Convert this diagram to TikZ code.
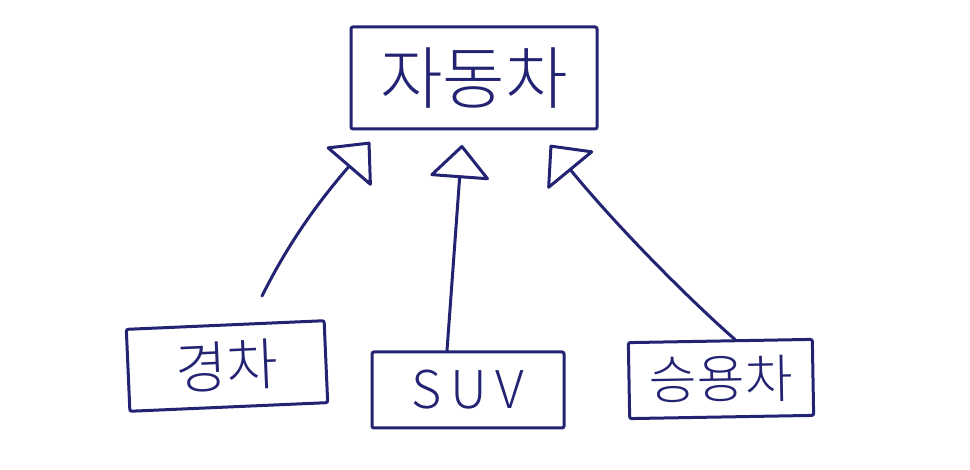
\documentclass[tikz,border=0pt]{standalone}
\usepackage{fontspec}
\newfontfamily\kr{Noto Sans CJK KR}[UprightFont=* Light]
\usetikzlibrary{arrows.meta}
\definecolor{ink}{RGB}{35,35,115}
\begin{document}
\begin{tikzpicture}[x=1pt,y=-1pt,
  box/.style={draw=ink, line width=3pt, rounded corners=2pt, inner sep=0pt, text=ink, font=\kr},
  link/.style={draw=ink, line width=3pt, line cap=round, -{Triangle[open, length=34pt, width=62pt, round]}}]
\useasboundingbox[fill=white] (0,0) rectangle (970,470);
\node[box, minimum width=246pt, minimum height=102pt, font=\kr\fontsize{68}{68}\selectfont] (car) at (474,78) {\raisebox{-2pt}{자동차}};
\node[box, minimum width=198pt, minimum height=82pt, rotate=2.5, font=\kr\fontsize{56}{56}\selectfont] (kyung) at (227,366) {경차};
\node[box, minimum width=192pt, minimum height=76pt, font=\kr\fontsize{52}{52}\selectfont] (suv) at (468,390) {S\,U\,V};
\node[box, minimum width=184pt, minimum height=76pt, rotate=1, font=\kr\fontsize{52}{52}\selectfont] (seung) at (721,379) {승용차};
\coordinate (l0) at (262,296);
\coordinate (l1) at (370,142);
\coordinate (m0) at (suv.north -| 447,0);
\coordinate (m1) at (462,145);
\coordinate (r0) at (seung.north -| 735,0);
\coordinate (r1) at (550,145);
\draw[link] (l0) .. controls (290,240) and (320,200) .. (l1);
\draw[link] (m0) -- (m1);
\draw[link] (r0) .. controls (690,300) and (620,230) .. (r1);
\end{tikzpicture}
\end{document}
